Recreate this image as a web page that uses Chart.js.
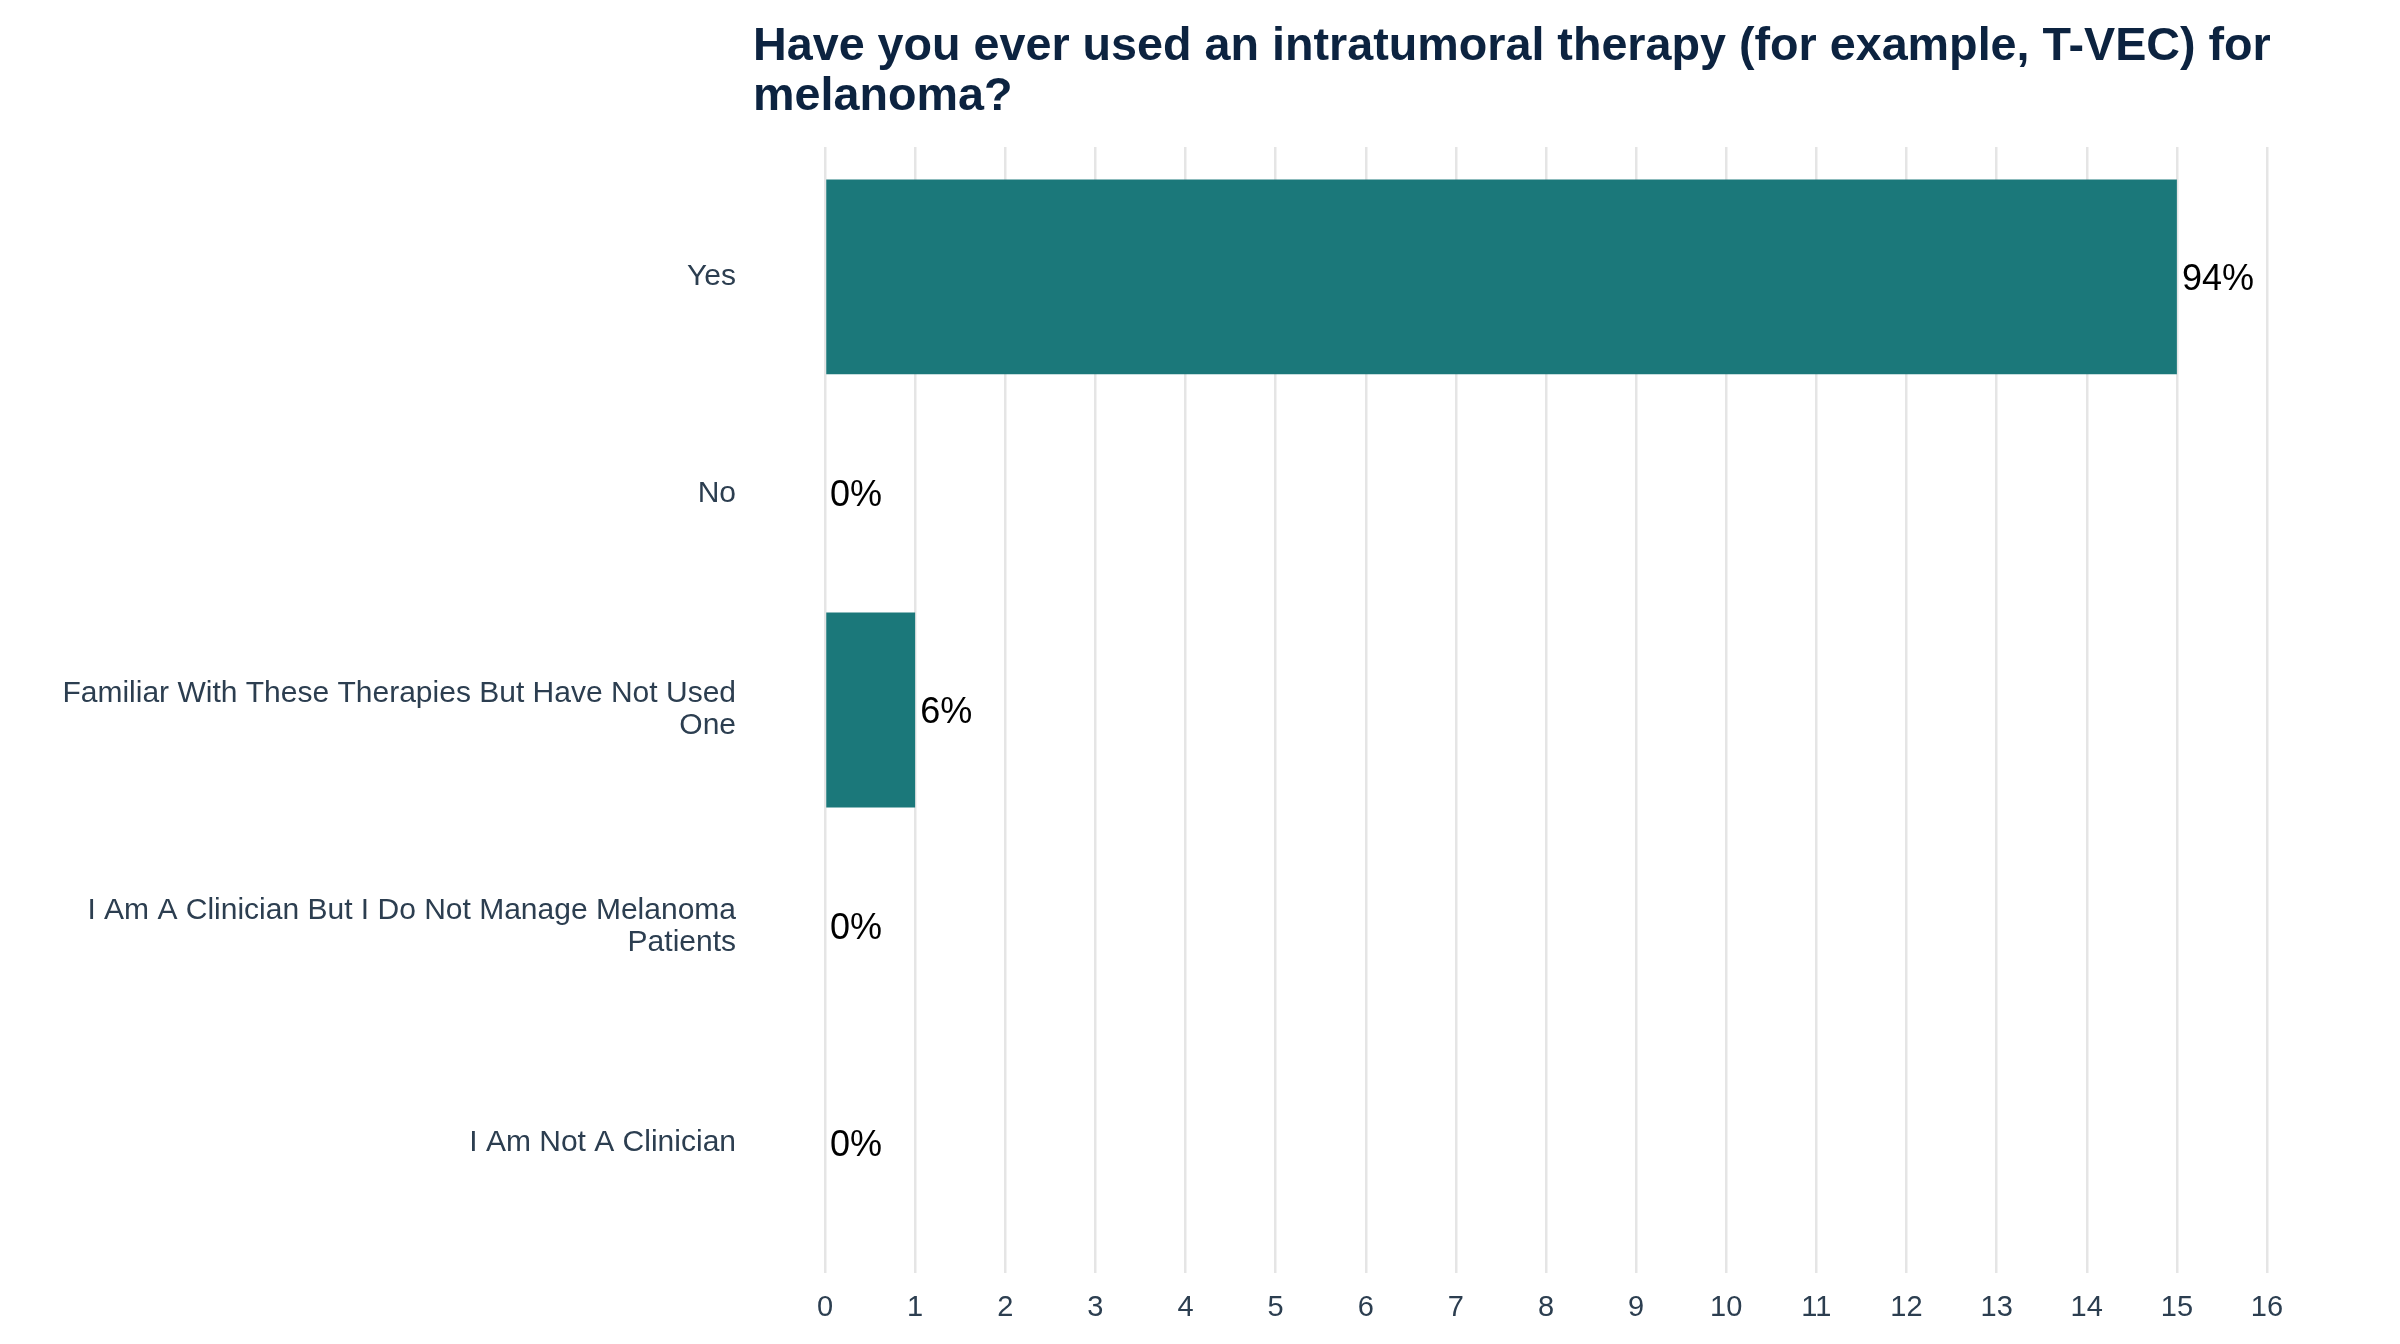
<!DOCTYPE html>
<html>
<head>
<meta charset="utf-8">
<title>Intratumoral therapy use</title>
<script src="https://cdn.jsdelivr.net/npm/chart.js@4.4.1/dist/chart.umd.min.js"></script>
<style>
  html, body { margin: 0; padding: 0; background: #ffffff; }
  #wrap { position: relative; width: 2400px; height: 1344px; }
</style>
</head>
<body>
<div id="wrap"><canvas id="surveyChart"></canvas></div>
<script>
// survey answers, top to bottom
const categories = [
    'Yes',
    'No',
    ['Familiar With These Therapies But Have Not Used', 'One'],
    ['I Am A Clinician But I Do Not Manage Melanoma', 'Patients'],
    'I Am Not A Clinician'
];
const counts = [15, 0, 1, 0, 0];
const percents = [94, 0, 6, 0, 0];
const xTicks = [0, 1, 2, 3, 4, 5, 6, 7, 8, 9, 10, 11, 12, 13, 14, 15, 16];
const titleLines = [
    'Have you ever used an intratumoral therapy (for example, T-VEC) for',
    'melanoma?'
];

const FONT = "'Liberation Sans', Arial, Helvetica, sans-serif";
Chart.defaults.font.family = FONT;

// title sits a bit left of the plot area, like the original
const titlePlugin = {
    id: 'leftTitle',
    afterDraw(chart) {
        const ctx = chart.ctx;
        ctx.save();
        ctx.font = 'bold 46.7px ' + FONT;
        ctx.fillStyle = '#0c2340';
        ctx.textAlign = 'left';
        ctx.textBaseline = 'alphabetic';
        const x = chart.chartArea.left - 72;
        titleLines.forEach((line, i) => ctx.fillText(line, x, 60 + i * 50));
        ctx.restore();
    }
};

// percentage labels next to each bar end
const pctLabels = {
    id: 'pctLabels',
    afterDatasetsDraw(chart) {
        const ctx = chart.ctx;
        const meta = chart.getDatasetMeta(0);
        ctx.save();
        ctx.font = '36px ' + FONT;
        ctx.fillStyle = '#000000';
        ctx.textAlign = 'left';
        ctx.textBaseline = 'middle';
        meta.data.forEach((bar, i) => {
            ctx.fillText(percents[i] + '%', bar.x + 5, bar.y + 3);
        });
        ctx.restore();
    }
};

const ctx = document.getElementById('surveyChart').getContext('2d');
new Chart(ctx, {
    type: 'bar',
    data: {
        datasets: [{
            data: counts.map((v, i) => ({ x: v, y: i })),
            backgroundColor: '#1b787a',
            borderWidth: 0,
            barPercentage: 0.9,
            categoryPercentage: 1
        }]
    },
    options: {
        indexAxis: 'y',
        responsive: true,
        maintainAspectRatio: false,
        animation: false,
        layout: { padding: { top: 147, right: 133, bottom: 24, left: 0 } },
        plugins: {
            legend: { display: false },
            title: { display: false },
            tooltip: { enabled: false }
        },
        scales: {
            x: {
                type: 'linear',
                min: xTicks[0],
                max: xTicks[xTicks.length - 1],
                afterBuildTicks: s => { s.ticks = xTicks.map(v => ({ value: v })); },
                afterFit: s => { s.height = 47; },
                grid: { color: '#e5e5e5', lineWidth: 2.5, drawTicks: false },
                border: { display: false },
                ticks: {
                    padding: 18,
                    maxRotation: 0,
                    autoSkip: false,
                    color: '#2c3e50',
                    font: { size: 29 }
                }
            },
            y: {
                type: 'linear',
                offset: false,
                reverse: true,
                min: -0.6,
                max: categories.length - 0.4,
                afterBuildTicks: s => { s.ticks = categories.map((c, i) => ({ value: i })); },
                afterFit: s => {
                    s.width = 825;
                    s.paddingTop = 0;
                    s.paddingBottom = 0;
                },
                grid: { display: false, drawTicks: false, offset: false },
                border: { display: false },
                ticks: {
                    padding: 89,
                    color: '#2c3e50',
                    font: { size: 30, lineHeight: 1.07 },
                    callback: v => categories[v]
                }
            }
        }
    },
    plugins: [titlePlugin, pctLabels]
});
</script>
</body>
</html>
